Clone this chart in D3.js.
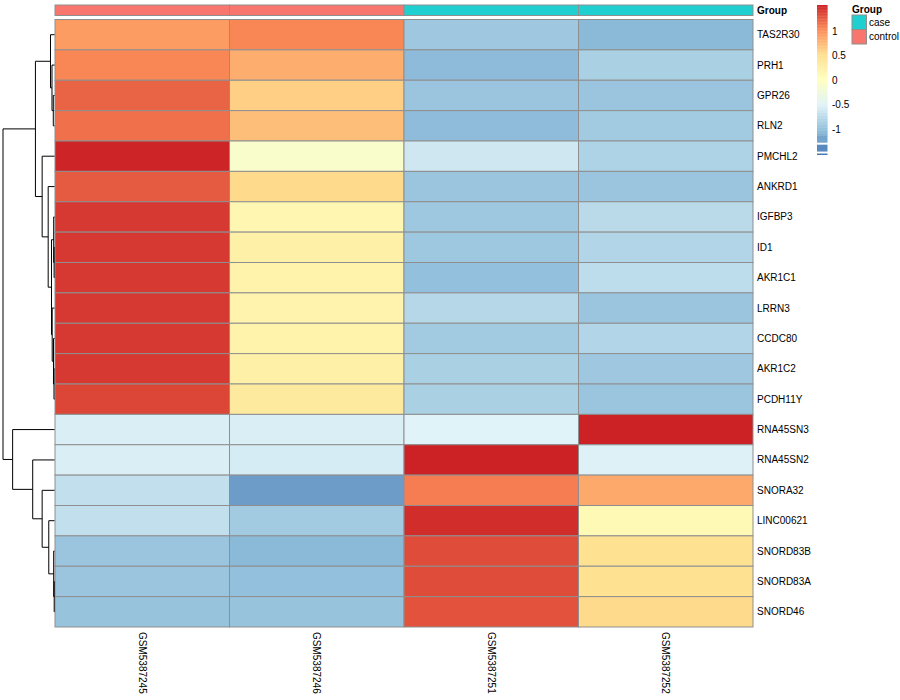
<!DOCTYPE html>
<html>
<head>
<meta charset="utf-8">
<script src="https://cdn.jsdelivr.net/npm/d3@7"></script>
<style>
  html, body { margin: 0; padding: 0; background: #fff; }
  text { font-family: "Liberation Sans", Arial, Helvetica, sans-serif; }
</style>
</head>
<body>
<svg id="chart" width="900" height="700"></svg>
<script>
// ---------------- data ----------------
const genes = ["TAS2R30","PRH1","GPR26","RLN2","PMCHL2","ANKRD1","IGFBP3","ID1","AKR1C1","LRRN3",
               "CCDC80","AKR1C2","PCDH11Y","RNA45SN3","RNA45SN2","SNORA32","LINC00621","SNORD83B","SNORD83A","SNORD46"];
const samples = ["GSM5387245","GSM5387246","GSM5387251","GSM5387252"];
const sampleGroups = ["control","control","case","case"];
const groupLevels = ["case","control"];
const groupColors = ["#20CFD0","#F8766D"];

// row-scaled expression (z-score)
const zTAS2R30   = [0.93, 1.05, -0.92, -1.05];
const zPRH1      = [1.05, 0.82, -1.04, -0.85];
const zGPR26     = [1.22, 0.62, -0.95, -0.95];
const zRLN2      = [1.16, 0.72, -1.03, -0.90];
const zPMCHL2    = [1.52, -0.10, -0.62, -0.82];
const zANKRD1    = [1.26, 0.55, -0.95, -0.95];
const zIGFBP3    = [1.42, 0.15, -0.93, -0.75];
const zID1       = [1.42, 0.25, -0.93, -0.80];
const zAKR1C1    = [1.42, 0.22, -1.00, -0.72];
const zLRRN3     = [1.42, 0.20, -0.78, -0.95];
const zCCDC80    = [1.42, 0.22, -0.90, -0.80];
const zAKR1C2    = [1.42, 0.25, -0.85, -0.92];
const zPCDH11Y   = [1.36, 0.35, -0.85, -0.95];
const zRNA45SN3  = [-0.55, -0.55, -0.50, 1.53];
const zRNA45SN2  = [-0.55, -0.57, 1.53, -0.52];
const zSNORA32   = [-0.70, -1.25, 1.10, 0.85];
const zLINC00621 = [-0.70, -0.90, 1.48, 0.10];
const zSNORD83B  = [-0.95, -1.05, 1.33, 0.50];
const zSNORD83A  = [-0.95, -1.00, 1.33, 0.50];
const zSNORD46   = [-0.97, -0.97, 1.30, 0.55];
const values = [zTAS2R30, zPRH1, zGPR26, zRLN2, zPMCHL2, zANKRD1, zIGFBP3, zID1, zAKR1C1, zLRRN3,
                zCCDC80, zAKR1C2, zPCDH11Y, zRNA45SN3, zRNA45SN2, zSNORA32, zLINC00621, zSNORD83B, zSNORD83A, zSNORD46];

// row dendrogram: [node, left child, right child, height]
const merges = [
  ["C",  "GPR26", "RLN2", 1.2],
  ["B",  "PRH1", "C", 2.5],
  ["A",  "TAS2R30", "B", 4.0],
  ["G2", "ID1", "AKR1C1", 0.4],
  ["G",  "IGFBP3", "G2", 0.8],
  ["J2", "AKR1C2", "PCDH11Y", 0.5],
  ["J",  "CCDC80", "J2", 1.0],
  ["H",  "LRRN3", "J", 2.3],
  ["F",  "G", "H", 3.0],
  ["E",  "ANKRD1", "F", 6.3],
  ["D",  "PMCHL2", "E", 12.3],
  ["T",  "A", "D", 19.0],
  ["O",  "SNORD83A", "SNORD46", 0.3],
  ["N",  "SNORD83B", "O", 0.8],
  ["M",  "LINC00621", "N", 5.7],
  ["L",  "SNORA32", "M", 12.3],
  ["K",  "RNA45SN2", "L", 21.7],
  ["Bt", "RNA45SN3", "K", 41.7],
  ["R",  "T", "Bt", 51.3]
];

// colour scale
const colorStops = ["#4575B4","#91BFDB","#E0F3F8","#FFFFBF","#FEE090","#FC8D59","#CC2226"];
const colorRange = [-1.52, 1.53];
const legendTicks = [1, 0.5, 0, -0.5, -1];

// ---------------- drawing ----------------
const svg = d3.select("#chart");

const x = d3.scaleBand().domain(samples).range([55, 753]);
const y = d3.scaleBand().domain(genes).range([19.5, 627]);

const stopDomain = d3.range(colorStops.length).map(i => colorRange[0] + i * (colorRange[1] - colorRange[0]) / (colorStops.length - 1));
const color = d3.scaleLinear().domain(stopDomain).range(colorStops).interpolate(d3.interpolateRgb).clamp(true);
const groupColor = d3.scaleOrdinal().domain(groupLevels).range(groupColors);

// heatmap cells
const cells = [];
genes.forEach((g, i) => samples.forEach((s, j) => cells.push({g, s, v: values[i][j]})));
svg.append("g").selectAll("rect").data(cells).join("rect")
  .attr("x", d => x(d.s)).attr("y", d => y(d.g))
  .attr("width", x.bandwidth()).attr("height", y.bandwidth())
  .attr("fill", d => color(d.v))
  .attr("stroke", "#8f8f8f").attr("stroke-width", 1);

// annotation bar
svg.append("g").selectAll("rect").data(samples).join("rect")
  .attr("x", d => x(d)).attr("y", 5)
  .attr("width", x.bandwidth()).attr("height", 10.5)
  .attr("fill", (d, i) => groupColor(sampleGroups[i]))
  .attr("stroke", "#8f8f8f").attr("stroke-width", 1);
svg.append("text").attr("x", 757).attr("y", 14)
  .attr("font-size", 10).attr("font-weight", "bold").text("Group");

// row labels
svg.append("g").selectAll("text").data(genes).join("text")
  .attr("x", 757).attr("y", d => y(d) + y.bandwidth() / 2)
  .attr("dy", "0.35em").attr("font-size", 10).text(d => d);

// column labels
svg.append("g").selectAll("text").data(samples).join("text")
  .attr("transform", d => `translate(${x(d) + x.bandwidth() / 2},632) rotate(90)`)
  .attr("dy", "0.35em").attr("font-size", 10).text(d => d);

// dendrogram
const maxH = d3.max(merges, m => m[3]);
const hx = d3.scaleLinear().domain([0, maxH]).range([54.5, 3]);
const pos = {};
genes.forEach(g => pos[g] = {x: hx(0), y: y(g) + y.bandwidth() / 2});
const dend = svg.append("g").attr("fill", "none").attr("stroke", "#000").attr("stroke-width", 1);
merges.forEach(([n, a, b, h]) => {
  const nx = hx(h), pa = pos[a], pb = pos[b];
  dend.append("path").attr("d",
    `M${pa.x},${pa.y}H${nx}V${pb.y}H${pb.x}`);
  pos[n] = {x: nx, y: (pa.y + pb.y) / 2};
});

// colour legend
const ly = d3.scaleLinear().domain([colorRange[0], colorRange[1]]).range([155, 5]);
const leg = svg.append("g");
const steps = d3.range(0, 200).map(i => colorRange[1] - i * (colorRange[1] - colorRange[0]) / 200);
const stepH = (ly(colorRange[0]) - ly(colorRange[1])) / 200;
leg.selectAll("rect.grad").data(steps.filter(v => v >= -1.11)).join("rect")
  .attr("x", 817).attr("width", 10.5)
  .attr("y", v => ly(v)).attr("height", stepH + 0.4)
  .attr("fill", v => color(v - stepH / 2 / 49.3));
// lower blocks as drawn in the reference legend
const lowBlocks = [[-1.13, -1.27], [-1.31, -1.45], [-1.49, -1.52]];
leg.selectAll("rect.low").data(lowBlocks).join("rect")
  .attr("x", 817).attr("width", 10.5)
  .attr("y", d => ly(d[0])).attr("height", d => ly(d[1]) - ly(d[0]))
  .attr("fill", d => color((d[0] + d[1]) / 2));
leg.selectAll("text").data(legendTicks).join("text")
  .attr("x", 832).attr("y", v => ly(v)).attr("dy", "0.35em")
  .attr("font-size", 10).text(v => v);

// group legend
svg.append("text").attr("x", 852).attr("y", 13)
  .attr("font-size", 10).attr("font-weight", "bold").text("Group");
const gl = svg.append("g");
gl.selectAll("rect").data(groupLevels).join("rect")
  .attr("x", 852).attr("y", (d, i) => 15 + i * 14.5)
  .attr("width", 14.5).attr("height", 14.5)
  .attr("fill", d => groupColor(d)).attr("stroke", "#8f8f8f").attr("stroke-width", 1);
gl.selectAll("text").data(groupLevels).join("text")
  .attr("x", 869).attr("y", (d, i) => 15 + i * 14.5 + 7.25).attr("dy", "0.35em")
  .attr("font-size", 10).text(d => d);
</script>
</body>
</html>
